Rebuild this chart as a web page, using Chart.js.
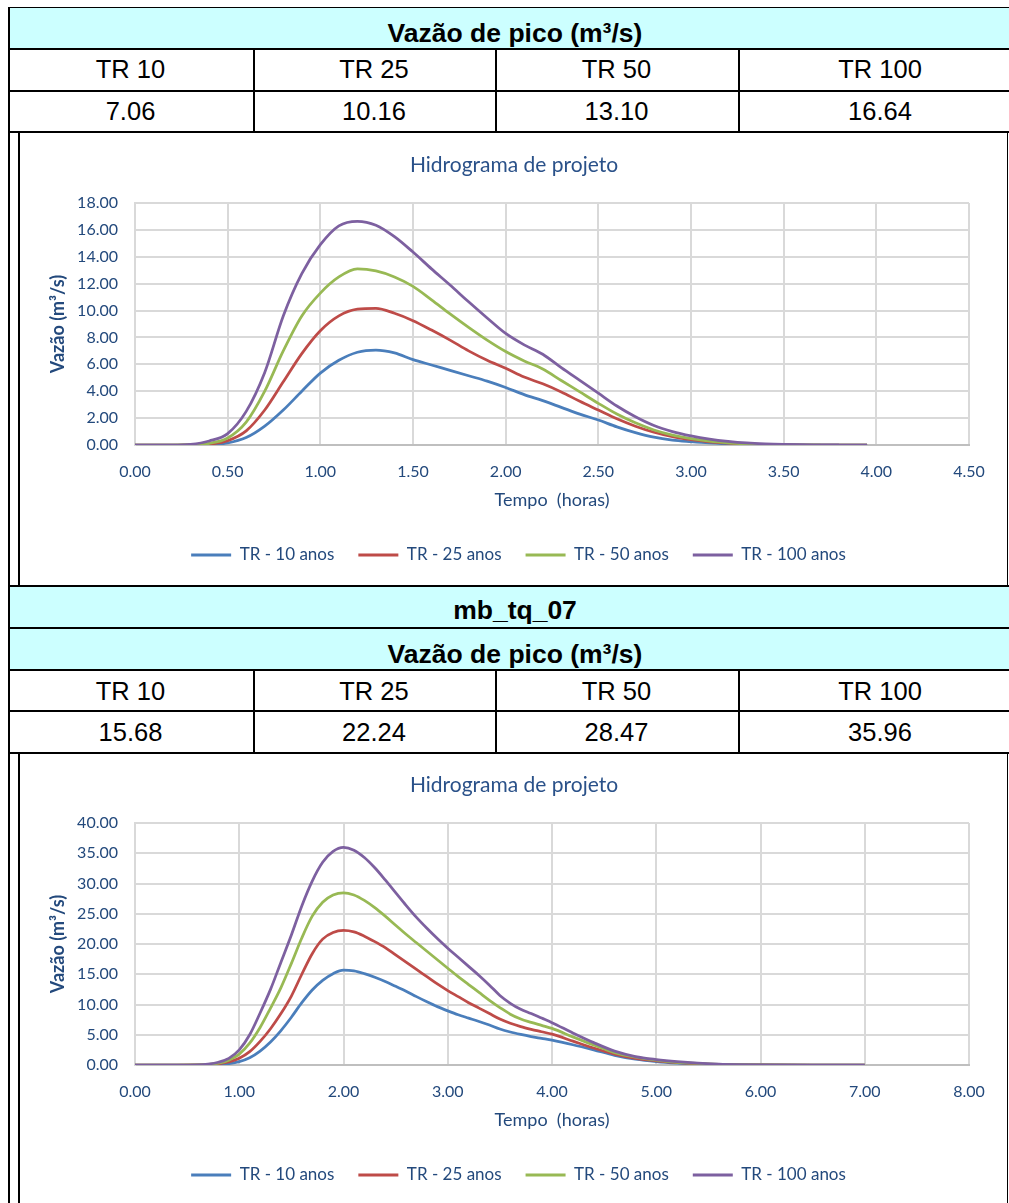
<!DOCTYPE html>
<html>
<head>
<meta charset="utf-8">
<title>Hidrograma de projeto</title>
<script src="https://cdn.jsdelivr.net/npm/chart.js@4.4.1/dist/chart.umd.min.js"></script>
<style>
  html, body { margin: 0; padding: 0; overflow: hidden; background: #fff; width: 1009px; height: 1203px; }
  .line { position: absolute; background: #000; }
  .cyan { position: absolute; background: #CCFFFF; left: 10px; width: 1012px; }
  .txt { position: absolute; font-family: "Liberation Sans", Arial, sans-serif;
         white-space: nowrap; transform: translateX(-50%); color: #000; }
  .bold { font-weight: bold; }
  canvas { position: absolute; }
</style>
</head>
<body>
<div id="page"></div>
<canvas id="chart1" width="987" height="452" style="left:20px;top:133px;width:987px;height:452px"></canvas>
<canvas id="chart2" width="987" height="452" style="left:20px;top:753px;width:987px;height:452px"></canvas>
<script>
// ---- table content ----
const trLabels = ['TR 10', 'TR 25', 'TR 50', 'TR 100'];
const picos1 = ['7.06', '10.16', '13.10', '16.64'];
const picos2 = ['15.68', '22.24', '28.47', '35.96'];
const bacia2 = 'mb_tq_07';
const cabecalho = 'Vazão de pico (m³/s)';

// ---- series: hydrograph 1 (tempo em horas, vazão em m³/s) ----
const tempo1 = [0, 0.1, 0.2, 0.3, 0.4, 0.5, 0.6, 0.7, 0.8, 0.9, 1.0, 1.1, 1.2, 1.3, 1.4, 1.5, 1.6, 1.7, 1.8, 1.9,
                2.0, 2.1, 2.2, 2.3, 2.4, 2.5, 2.6, 2.7, 2.8, 2.9, 3.0, 3.1, 3.2, 3.3, 3.4, 3.5, 3.6, 3.7, 3.8, 3.9, 3.95];
const tr10_1  = [0, 0, 0, 0, 0.02, 0.15, 0.55, 1.4, 2.6, 4.0, 5.35, 6.3, 6.9, 7.06, 6.85, 6.35, 5.95, 5.55, 5.15, 4.75,
                 4.28, 3.75, 3.3, 2.8, 2.3, 1.86, 1.35, 0.92, 0.58, 0.37, 0.25, 0.15, 0.08, 0.04, 0.02, 0.01, 0, 0, 0, 0, 0];
const tr25_1  = [0, 0, 0, 0.01, 0.06, 0.32, 1.05, 2.6, 4.7, 6.8, 8.5, 9.6, 10.1, 10.16, 9.8, 9.25, 8.55, 7.8, 7.0, 6.3,
                 5.7, 5.05, 4.55, 3.95, 3.25, 2.6, 1.95, 1.4, 0.95, 0.62, 0.4, 0.24, 0.13, 0.07, 0.03, 0.01, 0, 0, 0, 0, 0];
const tr50_1  = [0, 0, 0, 0.02, 0.12, 0.52, 1.7, 4.0, 7.0, 9.6, 11.3, 12.5, 13.1, 12.95, 12.5, 11.8, 10.8, 9.75, 8.75, 7.8,
                 6.95, 6.25, 5.65, 4.8, 3.95, 3.1, 2.3, 1.65, 1.12, 0.74, 0.47, 0.28, 0.16, 0.08, 0.04, 0.02, 0.01, 0, 0, 0, 0];
const tr100_1 = [0, 0, 0, 0.05, 0.3, 0.85, 2.5, 5.4, 9.6, 12.75, 14.9, 16.3, 16.64, 16.35, 15.5, 14.35, 13.1, 11.9, 10.65, 9.45,
                 8.3, 7.45, 6.75, 5.75, 4.8, 3.85, 2.9, 2.1, 1.45, 1.0, 0.68, 0.44, 0.27, 0.15, 0.08, 0.04, 0.02, 0.01, 0, 0, 0];

// ---- series: hydrograph 2 (mb_tq_07) ----
const tempo2 = [0, 0.2, 0.4, 0.6, 0.7, 0.8, 0.9, 1.0, 1.1, 1.2, 1.3, 1.4, 1.5, 1.6, 1.7, 1.8, 1.9, 2.0, 2.1, 2.2,
                2.3, 2.4, 2.5, 2.6, 2.7, 2.8, 2.9, 3.0, 3.1, 3.2, 3.3, 3.4, 3.5, 3.6, 3.7, 3.8, 3.9, 4.0, 4.2, 4.4,
                4.6, 4.8, 5.0, 5.2, 5.4, 5.6, 5.8, 6.0, 6.5, 7.0];
const tr10_2  = [0, 0, 0, 0, 0.02, 0.08, 0.22, 0.55, 1.2, 2.3, 3.8, 5.7, 7.9, 10.3, 12.4, 14.0, 15.1, 15.68, 15.55, 15.1,
                 14.5, 13.8, 13.0, 12.2, 11.3, 10.45, 9.65, 8.95, 8.3, 7.75, 7.2, 6.6, 5.95, 5.45, 5.05, 4.7, 4.4, 4.1, 3.35, 2.5,
                 1.6, 0.95, 0.55, 0.3, 0.15, 0.07, 0.03, 0.01, 0, 0];
const tr25_2  = [0, 0, 0, 0.01, 0.05, 0.2, 0.5, 1.1, 2.2, 3.9, 6.0, 8.5, 11.4, 15.0, 18.4, 20.8, 21.9, 22.24, 22.0, 21.3,
                 20.4, 19.4, 18.2, 17.0, 15.8, 14.6, 13.4, 12.3, 11.3, 10.3, 9.4, 8.5, 7.6, 6.9, 6.35, 5.9, 5.5, 5.1, 3.95, 2.8,
                 1.8, 1.1, 0.7, 0.4, 0.2, 0.1, 0.04, 0.01, 0, 0];
const tr50_2  = [0, 0, 0, 0.02, 0.1, 0.3, 0.8, 1.8, 3.6, 6.2, 9.4, 12.8, 16.8, 21.0, 24.6, 26.9, 28.1, 28.47, 28.1, 27.2,
                 26.0, 24.6, 23.1, 21.6, 20.2, 18.8, 17.4, 16.0, 14.6, 13.3, 12.0, 10.7, 9.5, 8.4, 7.6, 7.05, 6.55, 6.05, 4.65, 3.3,
                 2.05, 1.3, 0.8, 0.45, 0.25, 0.12, 0.05, 0.02, 0, 0];
const tr100_2 = [0, 0, 0, 0.03, 0.15, 0.45, 1.1, 2.5, 5.0, 8.6, 12.5, 17.0, 21.5, 26.3, 30.4, 33.5, 35.3, 35.96, 35.5, 34.3,
                 32.6, 30.6, 28.5, 26.4, 24.4, 22.6, 20.9, 19.3, 17.8, 16.3, 14.8, 13.2, 11.5, 10.2, 9.2, 8.5, 7.75, 7.0, 5.3, 3.7,
                 2.3, 1.4, 0.9, 0.55, 0.3, 0.15, 0.07, 0.03, 0, 0];

const serieNomes = ['TR - 10 anos', 'TR - 25 anos', 'TR - 50 anos', 'TR - 100 anos'];
const serieCores = ['#4A7EBB', '#BE4B48', '#98B954', '#7D60A0'];

// ---- page frame: table borders, cyan header rows and cell texts ----
const page = document.getElementById('page');
function box(cls, left, top, width, height) {
  const d = document.createElement('div');
  d.className = cls;
  d.style.left = left + 'px'; d.style.top = top + 'px';
  d.style.width = width + 'px'; d.style.height = height + 'px';
  page.appendChild(d);
}
// places a centred text so that its capital letters are centred on capCenter
function text(str, cx, capCenter, size, bold) {
  const d = document.createElement('div');
  d.className = 'txt' + (bold ? ' bold' : '');
  d.textContent = str;
  d.style.fontSize = size + 'px';
  d.style.lineHeight = size + 'px';
  d.style.left = cx + 'px';
  d.style.top = (capCenter - 0.4885 * size) + 'px';
  page.appendChild(d);
}

// cyan header bands
box('cyan', 10, 8, 1012, 40);
box('cyan', 10, 587, 1012, 40);
box('cyan', 10, 629, 1012, 40);

// outer borders and horizontal rules
box('line', 8, 7, 1014, 1);
box('line', 8, 7, 2, 1200);
[48, 90, 131, 585, 627, 669, 710, 752].forEach(y => box('line', 8, y, 1014, 2));

// column dividers
[253, 495, 738].forEach(x => { box('line', x, 48, 2, 85); box('line', x, 669, 2, 85); });

// chart frames
box('line', 18, 131, 2, 456); box('line', 1007, 131, 1, 456);
box('line', 18, 752, 2, 460); box('line', 1007, 752, 1, 460);

const colCenters = [130.5, 374, 616.5, 880];
const fsHead = 26.5, fsCell = 25.5;
text(cabecalho, 515, 32.5, fsHead, true);
trLabels.forEach((t, i) => text(t, colCenters[i], 69.5, fsCell, false));
picos1.forEach((t, i) => text(t, colCenters[i], 111, fsCell, false));
text(bacia2, 515, 609.5, fsHead, true);
text(cabecalho, 515, 654, fsHead, true);
trLabels.forEach((t, i) => text(t, colCenters[i], 691, fsCell, false));
picos2.forEach((t, i) => text(t, colCenters[i], 732, fsCell, false));

// ---- charts ----
Chart.defaults.font.family = 'Lato, "Open Sans", sans-serif';
const azul = '#23497C';

// title and legend are centred on the whole chart box, not on the plot
const centrarBlocos = {
  id: 'centrarBlocos',
  afterLayout(chart) {
    const lg = chart.legend, tb = chart.titleBlock;
    if (lg) { lg.left += 24; lg.right += 24; }
    if (tb) { tb.left += 19.5; tb.right += 19.5; }
  }
};

function hidrograma(canvasId, tempo, series, xMax, xStep, yMax, yStep) {
  const datasets = series.map((vals, i) => ({
    label: serieNomes[i],
    data: tempo.map((t, k) => ({ x: t, y: vals[k] })),
    borderColor: serieCores[i],
    backgroundColor: serieCores[i],
    borderWidth: 2.75,
    pointRadius: 0,
    cubicInterpolationMode: 'monotone',
    order: series.length - i
  }));
  return new Chart(document.getElementById(canvasId), {
    type: 'line',
    data: { datasets },
    plugins: [centrarBlocos],
    options: {
      responsive: false,
      animation: false,
      layout: { padding: { left: 0, right: 38, top: 0, bottom: 11.5 } },
      plugins: {
        title: {
          display: true,
          text: 'Hidrograma de projeto',
          color: '#2A5189',
          font: { size: 21, weight: 'normal' },
          padding: { top: 19.4, bottom: 25.4 }
        },
        legend: {
          position: 'bottom',
          labels: {
            color: azul,
            font: { size: 17 },
            boxWidth: 40,
            boxHeight: 3,
            padding: 24,
            sort: (a, b) => a.datasetIndex - b.datasetIndex,
            generateLabels: (chart) => Chart.defaults.plugins.legend.labels.generateLabels(chart)
              .map(l => Object.assign(l, { lineWidth: 0 }))
          }
        },
        tooltip: { enabled: false }
      },
      scales: {
        x: {
          type: 'linear',
          min: 0, max: xMax,
          afterFit: (s) => { s.height = 77.5; },
          ticks: { stepSize: xStep, color: azul, font: { size: 16 }, padding: 17, maxRotation: 0, autoSkip: false,
                   callback: (v) => Number(v).toFixed(2) },
          grid: { color: '#D9D9D9', lineWidth: 2, drawTicks: false },
          border: { color: '#BFBFBF', width: 2 },
          title: { display: true, text: 'Tempo  (horas)', color: azul, font: { size: 18 }, padding: { top: 0, bottom: 11.7 } }
        },
        y: {
          min: 0, max: yMax,
          afterFit: (s) => { s.width = 115; },
          ticks: { stepSize: yStep, color: azul, font: { size: 16 }, padding: 17,
                   callback: (v) => Number(v).toFixed(2) },
          grid: { color: '#D9D9D9', lineWidth: 2, drawTicks: false },
          border: { color: '#D9D9D9', width: 2 },
          title: { display: true, text: 'Vazão (m³/s)', color: azul, font: { size: 18, weight: 'bold' },
                   padding: { top: 27.7, bottom: 0 } }
        }
      }
    }
  });
}

hidrograma('chart1', tempo1, [tr10_1, tr25_1, tr50_1, tr100_1], 4.5, 0.5, 18, 2);
hidrograma('chart2', tempo2, [tr10_2, tr25_2, tr50_2, tr100_2], 8, 1, 40, 5);
</script>
</body>
</html>
